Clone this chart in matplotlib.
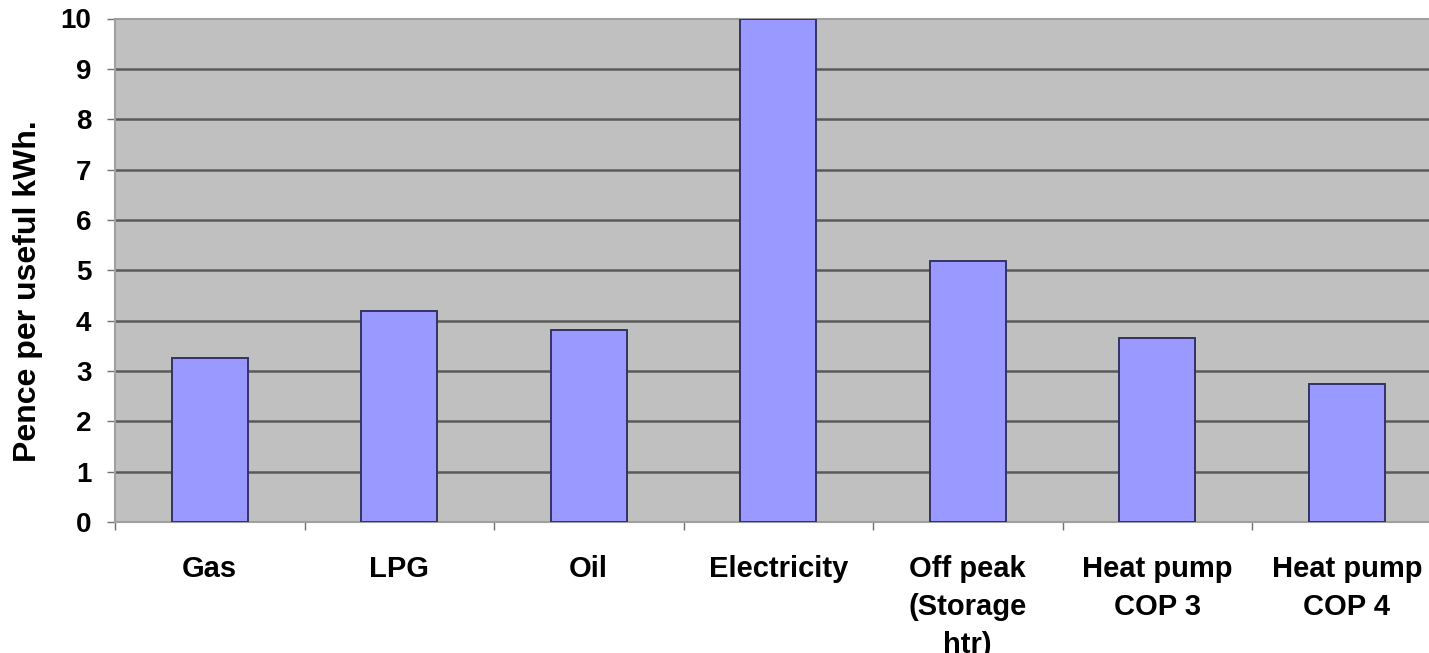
import matplotlib
matplotlib.use("Agg")
import matplotlib.pyplot as plt
import numpy as np

# Heating fuel running costs
categories = ["Gas", "LPG", "Oil", "Electricity", "Off peak\n(Storage\nhtr)",
              "Heat pump\nCOP 3", "Heat pump\nCOP 4"]
pence_per_kwh = [3.25, 4.2, 3.82, 10.0, 5.18, 3.65, 2.75]
y_ticks = [0, 1, 2, 3, 4, 5, 6, 7, 8, 9, 10]

plt.rcParams["font.family"] = ["Liberation Sans", "DejaVu Sans"]
plt.rcParams["font.weight"] = "bold"

W, H = 1429, 653
fig = plt.figure(figsize=(W / 100, H / 100), dpi=100)
left, right_px, top_px, bottom_px = 115, 115 + 7 * 189.5, 18.5, 522
ax = fig.add_axes([left / W, (H - bottom_px) / H,
                   (right_px - left) / W, (bottom_px - top_px) / H])
ax.set_facecolor("#c0c0c0")

x = np.arange(len(categories))
ax.bar(x, pence_per_kwh, width=0.4, color="#9999ff",
       edgecolor="#333366", linewidth=1.4, zorder=3)

ax.set_xlim(-0.5, len(categories) - 0.5)
ax.set_ylim(0, 10)
ax.set_yticks(y_ticks)
ax.set_yticklabels([str(v) for v in y_ticks], fontsize=20, fontweight="bold")

for v in y_ticks[1:-1]:
    ax.axhline(v, color="#5a5a5a", linewidth=1.8, zorder=1)

# Boundary ticks between categories, labels centred under bars
ax.set_xticks(np.arange(-0.5, len(categories), 1.0))
ax.set_xticklabels([])
ax.set_xticks(x, minor=True)
ax.set_xticklabels(categories, minor=True, fontsize=21, fontweight="bold",
                   linespacing=1.45, va="top")
ax.tick_params(axis="x", which="major", length=6, color="#707070", width=1)
ax.tick_params(axis="x", which="minor", length=0, pad=24)
ax.tick_params(axis="y", length=6, color="#707070", width=1, pad=11)

for side in ("left", "bottom", "top"):
    ax.spines[side].set_color("#a0a0a0")
    ax.spines[side].set_linewidth(1.5)
ax.spines["right"].set_visible(False)

fig.text(28 / W, (H - 291) / H, "Pence per useful kWh.",
         rotation=90, ha="center", va="center", fontsize=23, fontweight="bold")

fig.savefig("out.png", dpi=100, facecolor="white")
